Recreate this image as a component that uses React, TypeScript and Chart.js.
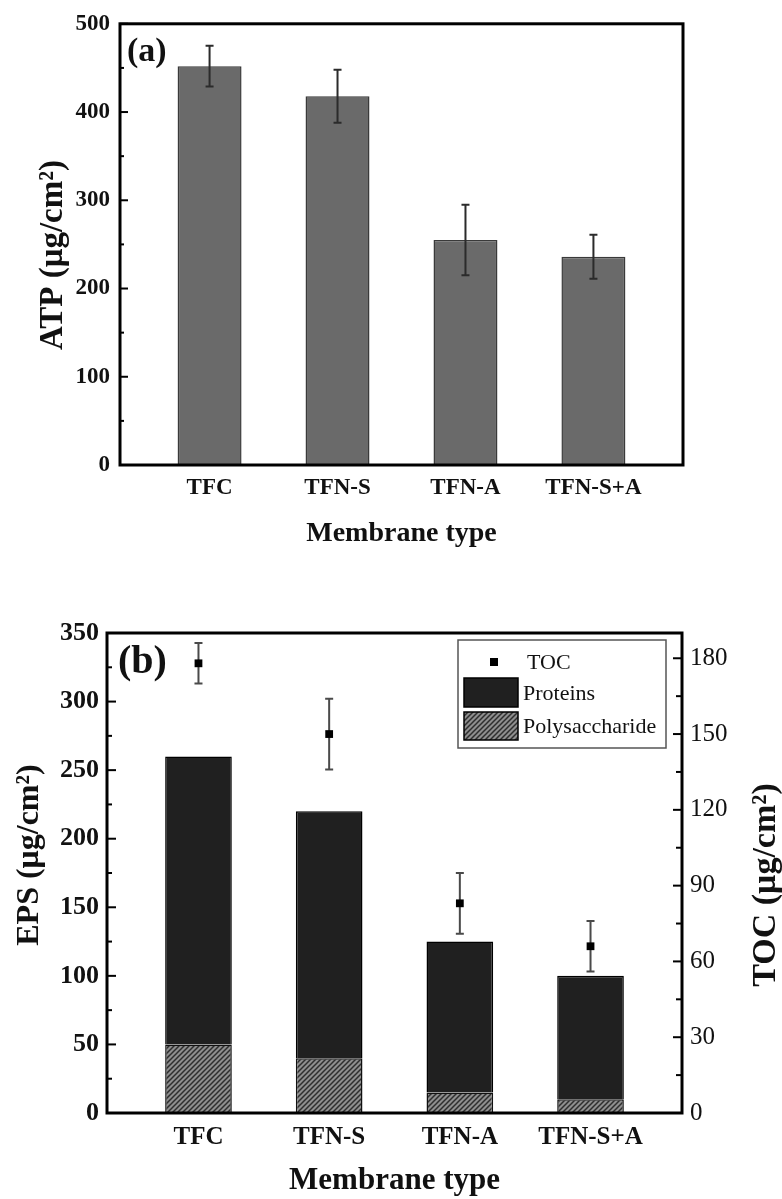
import React, { useEffect, useRef } from 'react';
import { Chart, registerables } from 'chart.js';

Chart.register(...registerables);

// ---------- data ----------
const categories = ['TFC', 'TFN-S', 'TFN-A', 'TFN-S+A'];

// panel (a)
const atpValues = [452, 418, 255, 236];
const atpErrors = [23, 30, 40, 25];
const atpTicks = [0, 100, 200, 300, 400, 500];

// panel (b)
const polysaccharide = [50, 40, 15, 10];
const proteins = [210, 180, 110, 90];
const tocValues = [178, 150, 83, 66];
const tocErrors = [8, 14, 12, 10];
const epsTicks = [0, 50, 100, 150, 200, 250, 300, 350];
const tocTicks = [0, 30, 60, 90, 120, 150, 180];

const SERIF = "'Liberation Serif', 'Times New Roman', Times, serif";

const mids = (t: number[]) => t.slice(1).map((v, i) => (v + t[i]) / 2);

function makeHatch(): CanvasPattern | string {
  const s = 5;
  const c = document.createElement('canvas');
  c.width = s;
  c.height = s;
  const g = c.getContext('2d');
  if (!g) return '#888';
  g.fillStyle = '#8e8e8e';
  g.fillRect(0, 0, s, s);
  g.strokeStyle = '#2e2e2e';
  g.lineWidth = 1.5;
  g.beginPath();
  g.moveTo(0, s); g.lineTo(s, 0);
  g.moveTo(-1, 1); g.lineTo(1, -1);
  g.moveTo(s - 1, s + 1); g.lineTo(s + 1, s - 1);
  g.stroke();
  const p = g.createPattern(c, 'repeat');
  return p || '#888';
}

function drawTicks(ctx: CanvasRenderingContext2D, scale: any, values: number[], x: number, dir: number, len: number) {
  values.forEach((v) => {
    const y = scale.getPixelForValue(v);
    ctx.beginPath();
    ctx.moveTo(x, y);
    ctx.lineTo(x + dir * len, y);
    ctx.stroke();
  });
}

function drawErr(ctx: CanvasRenderingContext2D, x: number, yt: number, yb: number, cap: number) {
  ctx.beginPath();
  ctx.moveTo(x, yt); ctx.lineTo(x, yb);
  ctx.moveTo(x - cap, yt); ctx.lineTo(x + cap, yt);
  ctx.moveTo(x - cap, yb); ctx.lineTo(x + cap, yb);
  ctx.stroke();
}

function vText(ctx: CanvasRenderingContext2D, text: string, x: number, y: number, font: string) {
  ctx.save();
  ctx.translate(x, y);
  ctx.rotate(-Math.PI / 2);
  ctx.font = font;
  ctx.textAlign = 'center';
  ctx.textBaseline = 'alphabetic';
  ctx.fillText(text, 0, 0);
  ctx.restore();
}

const fixedTicks = (vals: number[]) => (s: any) => {
  s.ticks = vals.map((v) => ({ value: v }));
};

export default function App() {
  const refA = useRef<HTMLCanvasElement | null>(null);
  const refB = useRef<HTMLCanvasElement | null>(null);

  useEffect(() => {
    if (!refA.current || !refB.current) return;
    const hatch = makeHatch();

    const decoA = {
      id: 'decoA',
      afterDatasetDraw(chart: any, args: any) {
        if (args.index !== 0) return;
        const ctx = chart.ctx;
        const meta = chart.getDatasetMeta(0);
        const y = chart.scales.y;
        ctx.save();
        ctx.strokeStyle = '#2b2b2b';
        ctx.lineWidth = 2;
        atpValues.forEach((v, i) => {
          drawErr(ctx, meta.data[i].x, y.getPixelForValue(v + atpErrors[i]), y.getPixelForValue(v - atpErrors[i]), 4);
        });
        ctx.restore();
      },
      afterDraw(chart: any) {
        const ctx = chart.ctx;
        const a = chart.chartArea;
        const y = chart.scales.y;
        ctx.save();
        ctx.strokeStyle = '#000';
        ctx.lineWidth = 2;
        drawTicks(ctx, y, atpTicks, a.left, 1, 8);
        drawTicks(ctx, y, mids(atpTicks), a.left, 1, 4);
        ctx.lineWidth = 3;
        ctx.strokeRect(a.left, a.top, a.right - a.left, a.bottom - a.top);
        ctx.fillStyle = '#111';
        ctx.font = `bold 28px ${SERIF}`;
        ctx.textAlign = 'center';
        ctx.textBaseline = 'alphabetic';
        ctx.fillText('Membrane type', (a.left + a.right) / 2, a.bottom + 76);
        ctx.font = `bold 34px ${SERIF}`;
        ctx.textAlign = 'left';
        ctx.fillText('(a)', a.left + 7, a.top + 37);
        vText(ctx, 'ATP (μg/cm²)', 62, 255, `bold 33px ${SERIF}`);
        ctx.restore();
      },
    };

    const decoB = {
      id: 'decoB',
      beforeDatasetDraw(chart: any, args: any) {
        if (args.index !== 0) return;
        const ctx = chart.ctx;
        const meta = chart.getDatasetMeta(0);
        const y2 = chart.scales.y2;
        ctx.save();
        ctx.strokeStyle = '#4a4a4a';
        ctx.lineWidth = 2;
        tocValues.forEach((v, i) => {
          drawErr(ctx, meta.data[i].x, y2.getPixelForValue(v + tocErrors[i]), y2.getPixelForValue(v - tocErrors[i]), 4);
        });
        ctx.restore();
      },
      afterDraw(chart: any) {
        const ctx = chart.ctx;
        const a = chart.chartArea;
        const y = chart.scales.y;
        const y2 = chart.scales.y2;
        ctx.save();
        ctx.strokeStyle = '#000';
        ctx.lineWidth = 2;
        drawTicks(ctx, y, epsTicks, a.left, 1, 9);
        drawTicks(ctx, y, mids(epsTicks), a.left, 1, 5);
        drawTicks(ctx, y2, tocTicks, a.right, -1, 9);
        drawTicks(ctx, y2, mids(tocTicks), a.right, -1, 6);
        ctx.lineWidth = 3;
        ctx.strokeRect(a.left, a.top, a.right - a.left, a.bottom - a.top);

        // legend
        const lx = 458, ly = 80, lw = 208, lh = 108;
        ctx.lineWidth = 1.5;
        ctx.strokeStyle = '#555';
        ctx.strokeRect(lx, ly, lw, lh);
        ctx.fillStyle = '#000';
        ctx.fillRect(494 - 4, 102 - 4, 8, 8);
        ctx.fillStyle = '#202020';
        ctx.fillRect(464, 118, 54, 29);
        ctx.strokeStyle = '#000';
        ctx.lineWidth = 1.5;
        ctx.strokeRect(464, 118, 54, 29);
        ctx.fillStyle = hatch as any;
        ctx.fillRect(464, 152, 54, 28);
        ctx.strokeRect(464, 152, 54, 28);
        ctx.fillStyle = '#111';
        ctx.font = `22px ${SERIF}`;
        ctx.textAlign = 'left';
        ctx.textBaseline = 'middle';
        const ds = chart.data.datasets;
        ctx.fillText(ds[0].label, 527, 103);
        ctx.fillText(ds[2].label, 523, 134);
        ctx.fillText(ds[1].label, 523, 167);

        ctx.textBaseline = 'alphabetic';
        ctx.textAlign = 'center';
        ctx.font = `bold 31px ${SERIF}`;
        ctx.fillText('Membrane type', (a.left + a.right) / 2, a.bottom + 76);
        ctx.textAlign = 'left';
        ctx.font = `bold 40px ${SERIF}`;
        ctx.fillText('(b)', a.left + 11, a.top + 40);
        vText(ctx, 'EPS (μg/cm²)', 38, 295, `bold 32px ${SERIF}`);
        vText(ctx, 'TOC (μg/cm²)', 775, 325, `bold 34px ${SERIF}`);
        ctx.restore();
      },
    };

    const chartA = new Chart(refA.current, {
      type: 'bar',
      data: {
        datasets: [
          {
            label: 'ATP',
            data: atpValues.map((v, i) => ({ x: i, y: v })),
            backgroundColor: '#6a6a6a',
            borderColor: '#3a3a3a',
            borderWidth: 1.5,
            categoryPercentage: 1,
            barPercentage: 0.5,
          } as any,
        ],
      },
      options: {
        animation: false,
        responsive: false,
        devicePixelRatio: 1,
        layout: { padding: { top: 13, right: 99, left: 0, bottom: 0 } },
        plugins: { legend: { display: false }, tooltip: { enabled: false } },
        scales: {
          x: {
            type: 'linear',
            offset: false,
            min: -0.7,
            max: 3.7,
            grid: { display: false, drawTicks: false },
            border: { display: false },
            afterBuildTicks: fixedTicks([0, 1, 2, 3]),
            afterFit: (s: any) => { s.height = 95; },
            ticks: {
              padding: 9,
              autoSkip: false,
              maxRotation: 0,
              color: '#111',
              font: { family: SERIF, size: 23, weight: 'bold' },
              callback: (v: any) => categories[v] ?? '',
            },
          },
          y: {
            min: 0,
            max: 500,
            grid: { display: false, drawTicks: false },
            border: { display: false },
            afterBuildTicks: fixedTicks(atpTicks),
            afterFit: (s: any) => { s.width = 120; },
            ticks: { padding: 10, color: '#111', font: { family: SERIF, size: 23, weight: 'bold' } },
          },
        },
      } as any,
      plugins: [decoA],
    });

    const chartB = new Chart(refB.current, {
      type: 'bar',
      data: {
        datasets: [
          {
            type: 'line',
            label: 'TOC',
            yAxisID: 'y2',
            data: tocValues.map((v, i) => ({ x: i, y: v })),
            showLine: false,
            pointStyle: 'rect',
            pointRadius: 5.5,
            pointBackgroundColor: '#000',
            pointBorderColor: '#000',
            pointBorderWidth: 0,
          } as any,
          {
            label: 'Polysaccharide',
            yAxisID: 'y',
            data: polysaccharide.map((v, i) => ({ x: i, y: v })),
            backgroundColor: hatch,
            borderColor: '#111',
            borderWidth: 1.5,
            categoryPercentage: 1,
            barPercentage: 0.51,
          } as any,
          {
            label: 'Proteins',
            yAxisID: 'y',
            data: proteins.map((v, i) => ({ x: i, y: v })),
            backgroundColor: '#202020',
            borderColor: '#000',
            borderWidth: 1.5,
            categoryPercentage: 1,
            barPercentage: 0.51,
          } as any,
        ],
      },
      options: {
        animation: false,
        responsive: false,
        devicePixelRatio: 1,
        layout: { padding: { top: 73, right: 0, left: 0, bottom: 0 } },
        plugins: { legend: { display: false }, tooltip: { enabled: false } },
        scales: {
          x: {
            type: 'linear',
            offset: false,
            stacked: true,
            min: -0.7,
            max: 3.7,
            grid: { display: false, drawTicks: false },
            border: { display: false },
            afterBuildTicks: fixedTicks([0, 1, 2, 3]),
            afterFit: (s: any) => { s.height = 86; },
            ticks: {
              padding: 10,
              autoSkip: false,
              maxRotation: 0,
              color: '#111',
              font: { family: SERIF, size: 25, weight: 'bold' },
              callback: (v: any) => categories[v] ?? '',
            },
          },
          y: {
            position: 'left',
            stacked: true,
            min: 0,
            max: 350,
            grid: { display: false, drawTicks: false },
            border: { display: false },
            afterBuildTicks: fixedTicks(epsTicks),
            afterFit: (s: any) => { s.width = 107; },
            ticks: { padding: 8, color: '#111', font: { family: SERIF, size: 26, weight: 'bold' } },
          },
          y2: {
            position: 'right',
            min: 0,
            max: 190,
            grid: { display: false, drawTicks: false },
            border: { display: false },
            afterBuildTicks: fixedTicks(tocTicks),
            afterFit: (s: any) => { s.width = 100; },
            ticks: { padding: 8, color: '#111', font: { family: SERIF, size: 25 } },
          },
        },
      } as any,
      plugins: [decoB],
    });

    return () => {
      chartA.destroy();
      chartB.destroy();
    };
  }, []);

  return (
    <div style={{ position: 'absolute', left: 0, top: 0, width: 782, height: 1199, background: '#fff' }}>
      <canvas ref={refA} width={782} height={560} style={{ position: 'absolute', left: 0, top: 0, width: 782, height: 560 }} />
      <canvas ref={refB} width={782} height={639} style={{ position: 'absolute', left: 0, top: 560, width: 782, height: 639 }} />
    </div>
  );
}
